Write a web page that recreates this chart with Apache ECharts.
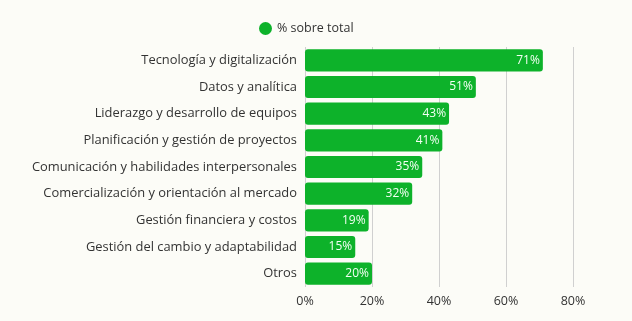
<!DOCTYPE html>
<html><head><meta charset="utf-8">
<script src="https://cdn.jsdelivr.net/npm/echarts@6/dist/echarts.min.js"></script>
<style>html,body{margin:0;padding:0;background:#fcfcf7;}#c{width:632px;height:321px;}</style>
</head><body><div id="c"></div>
<script>
const categories = ["Tecnología y digitalización","Datos y analítica","Liderazgo y desarrollo de equipos","Planificación y gestión de proyectos","Comunicación y habilidades interpersonales","Comercialización y orientación al mercado","Gestión financiera y costos","Gestión del cambio y adaptabilidad","Otros"];
const values = [71,51,43,41,35,32,19,15,20];
const xTicks = [0,20,40,60,80];
const seriesName = "% sobre total";
const font = "Open Sans";
const chart = echarts.init(document.getElementById('c'));
chart.setOption({
  backgroundColor:'#fcfcf7',
  legend:{top:17,left:254,itemWidth:13,itemHeight:13,itemGap:8,icon:'circle',textStyle:{fontFamily:font,fontSize:12.5,color:'#333'},data:[seriesName]},
  grid:{left:305,right:59,top:47,bottom:34,containLabel:false},
  xAxis:{type:'value',min:xTicks[0],max:xTicks[xTicks.length-1],interval:20,
    axisLabel:{formatter:'{value}%',fontFamily:font,fontSize:12.5,color:'#333',margin:8},
    splitLine:{lineStyle:{color:'#d0d0d0'}},axisLine:{show:false},axisTick:{show:false}},
  yAxis:{type:'category',inverse:true,data:categories,
    axisLabel:{fontFamily:font,fontSize:12.9,color:'#333',margin:8},
    axisLine:{show:false},axisTick:{show:false}},
  series:[{name:seriesName,type:'bar',data:values,barCategoryGap:'17%',
    itemStyle:{color:'#0db22a',borderRadius:3},
    label:{show:true,position:'insideRight',formatter:'{c}%',color:'#f4fff4',fontFamily:font,fontSize:12,offset:[2,0]}}]
});
</script></body></html>
